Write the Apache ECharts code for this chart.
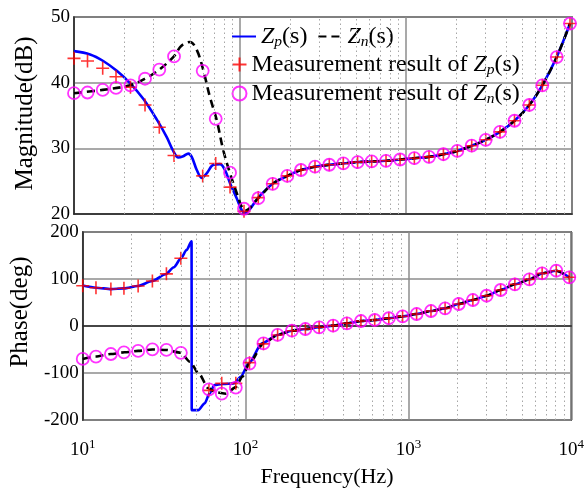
<!DOCTYPE html>
<html>
<head>
<meta charset="utf-8">
<script src="https://cdn.jsdelivr.net/npm/echarts@6/dist/echarts.min.js"></script>
<style>
html,body{margin:0;padding:0;background:#fff;}
#chart{width:587px;height:495px;}
</style>
</head>
<body>
<div id="chart"></div>
<script>
// ---------- data ----------
const xTickValues = [10, 100, 1000, 10000];
const xTickExponents = ['1', '2', '3', '4'];
const minorFreqs = [20,30,40,50,60,70,80,90,200,300,400,500,600,700,800,900,2000,3000,4000,5000,6000,7000,8000,9000];

// measurement frequencies (Hz)
const freqMeas = [10, 12.06, 14.89, 17.91, 21.89, 26.78, 32.65, 40.05, 59.6, 71.4, 87.1, 105.7,
  128.8, 157.3, 192.7, 233, 283, 345, 419, 511, 621, 758, 921, 1123, 1376, 1680, 2037, 2488,
  3021, 3684, 4505, 5535, 6626, 8091, 9727];
const zpMagMeas = [43.7, 43.3, 42.2, 40.9, 39.3, 36.6, 33.2, 28.9, 25.8, 27.7, 24.1, 20.4,
  22.5, 24.6, 25.8, 26.7, 27.2, 27.5, 27.7, 27.9, 28.0, 28.1, 28.3, 28.5, 28.7, 29.1, 29.6, 30.4,
  31.3, 32.5, 34.2, 36.6, 39.6, 43.9, 49.0];
const znMagMeas = [38.4, 38.5, 38.9, 39.2, 39.6, 40.6, 42.0, 44.0, 41.8, 34.5, 26.3, 20.8,
  22.4, 24.6, 25.8, 26.7, 27.2, 27.5, 27.7, 27.9, 28.0, 28.1, 28.3, 28.5, 28.7, 29.1, 29.6, 30.4,
  31.3, 32.5, 34.2, 36.6, 39.6, 43.9, 49.0];
const zpPhaseMeas = [85.7, 81.5, 78.7, 80.2, 85.1, 95.7, 111, 144, -137, -122, -122, -78,
  -38, -19, -10, -6.4, -2.8, 0.7, 5.7, 10.6, 12.8, 16.5, 20.5, 25.5, 31.9, 37.6, 46.8, 55.3,
  64.4, 76.6, 88.7, 99.3, 112, 117.6, 103.6];
const znPhaseMeas = [-70, -65, -59.6, -56, -53, -49.6, -51, -57, -135, -144, -131, -80,
  -37, -19, -10, -6.4, -2.8, 0.7, 5.7, 10.6, 12.8, 16.5, 20.5, 25.5, 31.9, 37.6, 46.8, 55.3,
  64.4, 76.6, 88.7, 99.3, 112, 117.6, 103.6];

// model curves, low-frequency part (Hz, value); above that they follow the measured points
const zpMagLowFreq = [10, 12.5, 15.0, 18.1, 21.8, 26.2, 31.5, 36.2, 39.6, 42.5, 45.5, 48.8, 51.2, 54.9, 58.8, 63.0, 69.1, 75.8, 81.2, 87.1, 95.5, 102.4, 107];
const zpMagLowVal  = [44.8, 44.3, 43.3, 41.8, 39.9, 37.5, 34.4, 31.7, 29.6, 28.6, 28.8, 29.2, 28.7, 26.7, 25.5, 26.2, 27.5, 27.6, 26.7, 24.7, 22.4, 20.6, 20.2];
const znMagLowFreq = [10, 14.9, 21.8, 26.8, 32.7, 40, 43.5, 46.0, 50.0, 54.9, 60.1, 65.9, 72.4, 79.3, 87.1, 95.5, 102.4, 107];
const znMagLowVal  = [38.4, 38.9, 39.6, 40.6, 42.0, 44.0, 45.4, 45.9, 46.2, 45.0, 41.9, 37.8, 34.3, 29.7, 26.2, 23.2, 21.1, 20.5];
const zpPhLowFreq = [10, 12.1, 14.9, 17.9, 21.8, 26.8, 32.2, 36.3, 40.1, 43.5, 46.6, 46.7, 51.2, 56.1, 60.1, 64.4, 72.4, 85.0, 93.3, 104.7, 126];
const zpPhLowVal  = [86, 81.5, 78.5, 80, 85, 95.7, 110, 125, 144, 162, 180, -179, -179, -164.6, -143.3, -125.6, -123.5, -122, -108, -79.5, -36.9];
const znPhLowFreq = [10, 12, 14.9, 18.1, 21.9, 26.8, 32.7, 40, 45.5, 52.3, 58.8, 65.9, 75.8, 87.1, 95.5, 105.7, 128.8];
const znPhLowVal  = [-70, -65, -59.6, -56, -53, -50, -51, -57, -76, -104, -132, -141, -144, -130, -108, -79.5, -37];

const legendNames = ['Zp', 'Zn', 'mZp', 'mZn'];
const legendTexts = ['{i|Z}{s|p}{n|(s)}', '{i|Z}{s|n}{n|(s)}',
  '{n|Measurement result of }{i|Z}{s|p}{n|(s)}', '{n|Measurement result of }{i|Z}{s|n}{n|(s)}'];

// ---------- build ----------
const FONT = 'Liberation Serif';
const pairs = (f, v) => f.map((x, i) => [x, v[i]]);
const lineFrom = (lf, lv, mf, mv, startIdx) => pairs(lf, lv).concat(pairs(mf.slice(startIdx), mv.slice(startIdx)));

const zpMagLine = lineFrom(zpMagLowFreq, zpMagLowVal, freqMeas, zpMagMeas, 12);
const znMagLine = lineFrom(znMagLowFreq, znMagLowVal, freqMeas, znMagMeas, 12);
const zpPhLine = lineFrom(zpPhLowFreq, zpPhLowVal, freqMeas, zpPhaseMeas, 13);
const znPhLine = lineFrom(znPhLowFreq, znPhLowVal, freqMeas, znPhaseMeas, 13);

const plusPath = 'path://M5,0 L5,10 M0,5 L10,5';

const legendRich = {
  n: {fontFamily: FONT, fontSize: 24, color: '#000', lineHeight: 27},
  i: {fontFamily: FONT, fontSize: 24, fontStyle: 'italic', color: '#000', lineHeight: 27},
  s: {fontFamily: FONT, fontSize: 15.5, fontStyle: 'italic', color: '#000', lineHeight: 16, padding: [11, 0, 0, 0]}
};
const legendFormatter = name => legendTexts[legendNames.indexOf(name)];

function axisLineStyle() { return {show: true, lineStyle: {color: '#262626', width: 1.5}}; }
const splitStyle = {show: true, lineStyle: {color: '#8c8c8c', width: 1.5}};
const tickLabelStyle = {fontFamily: FONT, fontSize: 19, color: '#000'};

function gridMarkSeries(idx) {
  return {
    type: 'line', xAxisIndex: idx, yAxisIndex: idx, data: [], silent: true, z: 1,
    markLine: {
      silent: true, symbol: ['none', 'none'], label: {show: false}, animation: false,
      lineStyle: {type: [1.5, 3], color: '#a6a6a6', width: 1},
      emphasis: {disabled: true},
      data: minorFreqs.map(f => ({xAxis: f}))
    }
  };
}

function lineSeries(name, data, idx, color, dashed, monotone) {
  const s = {
    name, type: 'line', xAxisIndex: idx, yAxisIndex: idx, data, symbol: 'none', z: 3,
    smooth: monotone ? 0.25 : 0.35,
    lineStyle: {color, width: 2.6, type: dashed ? [8, 5] : 'solid'},
    itemStyle: {color}
  };
  if (monotone) s.smoothMonotone = 'x';
  return s;
}
function plusSeries(name, data, idx) {
  return {
    name, type: 'scatter', xAxisIndex: idx, yAxisIndex: idx, data, symbol: plusPath, symbolSize: 13, z: 4,
    itemStyle: {color: 'none', borderColor: '#ff0000', borderWidth: 1.6}
  };
}
function circleSeries(name, data, idx) {
  return {
    name, type: 'scatter', xAxisIndex: idx, yAxisIndex: idx, data, symbol: 'circle', symbolSize: 12, z: 5,
    itemStyle: {color: 'none', borderColor: '#ff00ff', borderWidth: 1.8}
  };
}

const option = {
  animation: false,
  backgroundColor: '#fff',
  grid: [
    {left: 74, right: 15, top: 17, height: 197, show: true, borderColor: '#262626', borderWidth: 1.5, backgroundColor: '#fff'},
    {left: 74, right: 15, top: 232, height: 188, show: true, borderColor: '#262626', borderWidth: 1.5, backgroundColor: '#fff'}
  ],
  xAxis: [
    {type: 'log', logBase: 10, min: 10, max: 10000, gridIndex: 0,
      axisLabel: {show: false}, axisTick: {show: false}, axisLine: axisLineStyle(), splitLine: splitStyle},
    {type: 'log', logBase: 10, min: 10, max: 10000, gridIndex: 1,
      axisTick: {show: false}, axisLine: axisLineStyle(), splitLine: splitStyle,
      axisLabel: {
        margin: 18,
        formatter: v => {
          const k = xTickValues.indexOf(Math.round(v));
          return '{b|10}{p|' + xTickExponents[k] + '}';
        },
        rich: {
          b: {fontFamily: FONT, fontSize: 19, color: '#000', lineHeight: 24},
          p: {fontFamily: FONT, fontSize: 13, color: '#000', lineHeight: 14, padding: [0, 0, 10, 0]}
        }
      },
      name: 'Frequency(Hz)', nameLocation: 'middle', nameGap: 46,
      nameTextStyle: {fontFamily: FONT, fontSize: 22, color: '#000'}
    }
  ],
  yAxis: [
    {type: 'value', min: 20, max: 50, interval: 10, gridIndex: 0,
      axisLine: axisLineStyle(), axisTick: {show: false}, splitLine: splitStyle,
      axisLabel: Object.assign({margin: 4}, tickLabelStyle),
      name: 'Magnitude(dB)', nameLocation: 'middle', nameGap: 36,
      nameTextStyle: {fontFamily: FONT, fontSize: 25, color: '#000', padding: [0, 0, 0, 4]}},
    {type: 'value', min: -200, max: 200, interval: 100, gridIndex: 1,
      axisLine: axisLineStyle(), axisTick: {show: false}, splitLine: splitStyle,
      axisLabel: Object.assign({margin: 4}, tickLabelStyle),
      name: 'Phase(deg)', nameLocation: 'middle', nameGap: 36,
      nameTextStyle: {fontFamily: FONT, fontSize: 25, color: '#000', padding: [0, 0, 0, 28]}}
  ],
  legend: [
    {data: [{name: 'Zp', itemStyle: {opacity: 0}}, {name: 'Zn', itemStyle: {opacity: 0}}],
      left: 226, top: 18, orient: 'horizontal', itemWidth: 24, itemHeight: 14, itemGap: 10,
      formatter: legendFormatter, textStyle: {rich: legendRich, padding: [0, 0, 0, 0]}, selectedMode: false},
    {data: ['mZp'], left: 225, top: 46, itemWidth: 14, itemHeight: 14,
      formatter: legendFormatter, textStyle: {rich: legendRich, padding: [0, 0, 0, 0]}, selectedMode: false},
    {data: ['mZn'], left: 225, top: 75, itemWidth: 14, itemHeight: 14,
      formatter: legendFormatter, textStyle: {rich: legendRich, padding: [0, 0, 0, 0]}, selectedMode: false}
  ],
  series: [
    gridMarkSeries(0),
    gridMarkSeries(1),
    lineSeries('Zp', zpMagLine, 0, '#0000ff', false, false),
    lineSeries('Zn', znMagLine, 0, '#000000', true, false),
    plusSeries('mZp', pairs(freqMeas, zpMagMeas), 0),
    circleSeries('mZn', pairs(freqMeas, znMagMeas), 0),
    lineSeries('Zp', zpPhLine, 1, '#0000ff', false, true),
    lineSeries('Zn', znPhLine, 1, '#000000', true, true),
    plusSeries('mZp', pairs(freqMeas, zpPhaseMeas), 1),
    circleSeries('mZn', pairs(freqMeas, znPhaseMeas), 1)
  ]
};

const chart = echarts.init(document.getElementById('chart'), null, {renderer: 'canvas'});
chart.setOption(option);
</script>
</body>
</html>
